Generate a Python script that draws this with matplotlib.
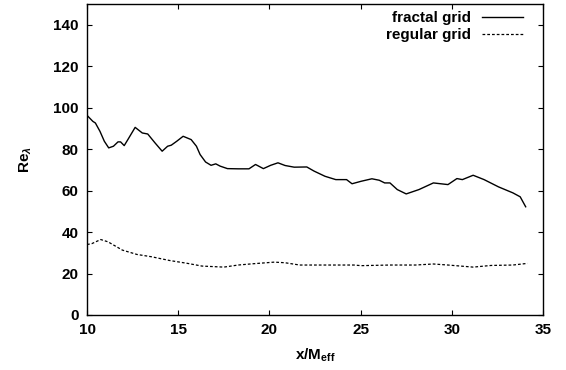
import numpy as np
import matplotlib
matplotlib.use('Agg')
import matplotlib.pyplot as plt

plt.rcParams['font.family'] = ['Liberation Sans', 'DejaVu Sans']
plt.rcParams['font.weight'] = 'bold'
plt.rcParams['mathtext.fontset'] = 'custom'
plt.rcParams['mathtext.rm'] = 'Liberation Sans:bold'
plt.rcParams['mathtext.it'] = 'Liberation Sans:italic:bold'
plt.rcParams['mathtext.bf'] = 'Liberation Sans:bold'

# fractal grid
x_fractal = [10.0, 10.32, 10.46, 10.71, 10.95, 11.19, 11.45, 11.7, 11.84, 12.04,
             12.24, 12.64, 13.03, 13.33, 13.73, 14.12, 14.42, 14.62, 14.92, 15.27,
             15.71, 16.0, 16.2, 16.5, 16.8, 17.06, 17.3, 17.7, 18.29, 18.88,
             19.24, 19.67, 20.07, 20.47, 20.86, 21.36, 22.05, 22.45, 23.05, 23.64,
             24.23, 24.53, 25.03, 25.62, 26.02, 26.32, 26.61, 27.01, 27.5, 28.2,
             28.99, 29.79, 30.28, 30.58, 31.17, 31.77, 32.56, 33.35, 33.75, 34.05]
re_fractal = [96.3, 93.4, 92.6, 88.6, 83.8, 80.6, 81.4, 83.5, 83.5, 81.7,
              84.6, 90.5, 87.8, 87.3, 83.0, 79.0, 81.4, 81.9, 83.8, 86.2,
              84.6, 81.4, 77.4, 73.8, 72.2, 72.9, 71.8, 70.6, 70.5, 70.5,
              72.6, 70.6, 72.2, 73.4, 72.1, 71.3, 71.4, 69.4, 66.9, 65.3,
              65.3, 63.3, 64.5, 65.7, 65.0, 63.7, 63.7, 60.5, 58.4, 60.5,
              63.7, 62.9, 65.8, 65.3, 67.4, 65.3, 61.8, 58.9, 57.0, 52.2]

# regular grid
x_regular = [10.0, 10.26, 10.75, 11.15, 11.94, 12.74, 13.53, 14.52, 15.51, 16.3,
             17.5, 18.29, 19.08, 20.27, 20.86, 21.66, 23.05, 24.63, 25.03, 26.61,
             28.0, 28.99, 29.79, 31.17, 32.16, 33.35, 34.15]
re_regular = [34.0, 34.4, 36.4, 35.3, 31.3, 29.2, 28.1, 26.3, 24.9, 23.6,
              23.1, 24.1, 24.7, 25.5, 25.2, 24.1, 24.1, 24.1, 23.8, 24.1,
              24.1, 24.6, 24.1, 23.1, 23.9, 24.1, 24.9]

W, H = 566, 370
fig = plt.figure(figsize=(W/100, H/100), dpi=100)
# axes box in pixels: left 87, right 543, top 4, bottom 315
ax = fig.add_axes([87/W, 1 - 315/H, (543-87)/W, (315-4)/H])

ax.plot(x_fractal, re_fractal, color='black', lw=1.0, label='fractal grid')
ax.plot(x_regular, re_regular, color='black', lw=0.9, dashes=(2.2, 1.6), label='regular grid')

ax.set_xlim(10, 35)
ax.set_ylim(0, 150)
ax.set_xticks([10, 15, 20, 25, 30, 35])
ax.set_yticks(np.arange(0, 141, 20))
ax.tick_params(direction='in', top=True, right=True, length=3.4, width=0.8,
               labelsize=11, pad=6)
for lab in ax.get_xticklabels() + ax.get_yticklabels():
    lab.set_fontweight('bold')
for s in ax.spines.values():
    s.set_linewidth(1.0)

ax.set_xlabel(r'x/M$_{\mathrm{eff}}$', fontsize=11, fontweight='bold', labelpad=7)
ax.set_ylabel(r'Re$_{\lambda}$', fontsize=11, fontweight='bold', labelpad=14)

leg = ax.legend(loc='upper right', frameon=False, markerfirst=False, fontsize=11,
                handlelength=2.72, borderaxespad=0, borderpad=0, labelspacing=0.2,
                handletextpad=0.72, bbox_to_anchor=(0.957, 0.977))
for t in leg.get_texts():
    t.set_fontweight('bold')

fig.savefig('out.png', dpi=100)
